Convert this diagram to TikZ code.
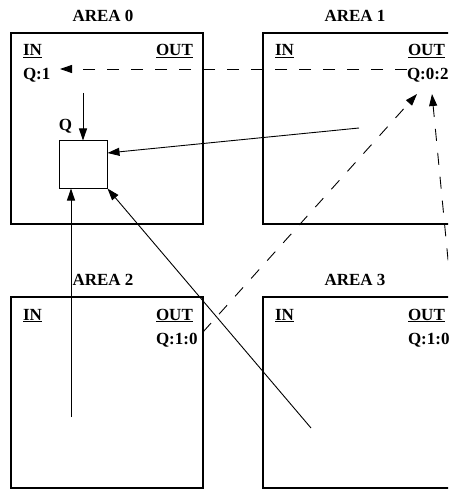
\documentclass[tikz,border=0pt]{standalone}
\usepackage{fontspec}
\setmainfont{Liberation Serif}
\usetikzlibrary{arrows.meta}
\tikzset{
  areabox/.style={draw, line width=1.1pt, minimum width=192pt, minimum height=191pt, inner sep=0pt, outer sep=0pt},
  qbox/.style={draw, line width=1.1pt, minimum width=48pt, minimum height=48pt, inner sep=0pt, outer sep=0pt},
  lbl/.style={font=\fontsize{17}{20}\selectfont\bfseries, inner sep=0pt, outer sep=0pt},
  conn/.style={line width=0.9pt, -{Triangle[length=12pt,width=8pt]}},
  dconn/.style={conn, dash pattern=on 12pt off 12pt},
}
\begin{document}
\begin{tikzpicture}[x=1pt,y=-1pt]
\useasboundingbox (0,0) rectangle (448,489);
\clip (0,0) rectangle (448,489);
% area boxes
\node[areabox] (a0) at (107,128.5) {};
\node[areabox] (a1) at (359,128.5) {};
\node[areabox] (a2) at (107,392.5) {};
\node[areabox] (a3) at (359,392.5) {};
% area titles
\node[lbl, anchor=base] (t0) at (103,22) {AREA 0};
\node[lbl, anchor=base] (t1) at (355,22) {AREA 1};
\node[lbl, anchor=base] (t2) at (103,285) {AREA 2};
\node[lbl, anchor=base] (t3) at (355,285) {AREA 3};
% IN / OUT
\node[lbl, anchor=base west] (in0) at (23,56) {\underline{IN}};
\node[lbl, anchor=base west] (out0) at (156,56) {\underline{OUT}};
\node[lbl, anchor=base west] (in1) at (275,56) {\underline{IN}};
\node[lbl, anchor=base west] (out1) at (408,56) {\underline{OUT}};
\node[lbl, anchor=base west] (in2) at (23,320) {\underline{IN}};
\node[lbl, anchor=base west] (out2) at (156,320) {\underline{OUT}};
\node[lbl, anchor=base west] (in3) at (275,320) {\underline{IN}};
\node[lbl, anchor=base west] (out3) at (408,320) {\underline{OUT}};
% Q labels
\node[lbl, anchor=base west] (q0) at (23,80) {Q:1};
\node[lbl, anchor=base west] (q1) at (407,80) {Q:0:2};
\node[lbl, anchor=base west] (q2) at (156,344) {Q:1:0};
\node[lbl, anchor=base west] (q3) at (408,344) {Q:1:0};
% small box
\node[qbox] (sq) at (83.5,164.5) {};
\node[lbl, anchor=base] (ql) at (65.5,131) {Q};
% connector ends
\coordinate (d0s) at (407,69);
\coordinate (d0e) at (60,69);
\coordinate (d2s) at (203,332);
\coordinate (d2e) at (417,94);
\coordinate (d3s) at (455,332);
\coordinate (d3e) at (432,94);
\coordinate (s0) at (83,93);
\coordinate (s1) at (359,128);
\coordinate (s2) at (71,417);
\coordinate (s3) at (311,428);
% dashed connectors
\draw[dconn] (d0s) -- (d0e);
\draw[dconn] (d2s) -- (d2e);
\draw[dconn] (d3s) -- (d3e);
% solid connectors
\draw[conn] (s0) -- (sq.north -| s0);
\draw[conn] (s1) -- (sq.east |- 0,153);
\draw[conn] (s2) -- (sq.south -| s2);
\draw[conn] (s3) -- (sq.south east);
\end{tikzpicture}
\end{document}
